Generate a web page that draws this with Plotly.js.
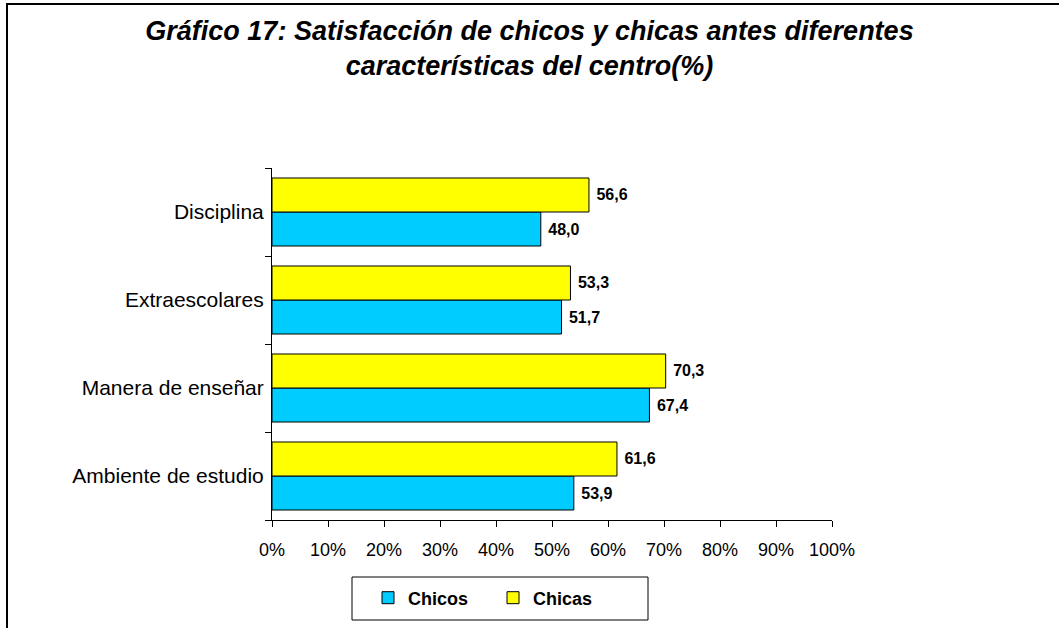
<!DOCTYPE html>
<html>
<head>
<meta charset="utf-8">
<script src="https://cdn.plot.ly/plotly-3.0.1.min.js"></script>
<style>html,body{margin:0;padding:0;background:#fff;}#chart{width:1059px;height:628px;}</style>
</head>
<body>
<div id="chart"></div>
<script>
const categories = ['Ambiente de estudio', 'Manera de enseñar', 'Extraescolares', 'Disciplina'];
const chicos = [53.9, 67.4, 51.7, 48.0];
const chicas = [61.6, 70.3, 53.3, 56.6];
const xTickVals = [0, 10, 20, 30, 40, 50, 60, 70, 80, 90, 100];
const xTickText = ['0%', '10%', '20%', '30%', '40%', '50%', '60%', '70%', '80%', '90%', '100%'];
const seriesNames = ['Chicos', 'Chicas'];

const fmt = v => '\u00a0' + v.toFixed(1).replace('.', ',');
const FONT = 'Liberation Sans, Arial, sans-serif';

const traces = [
  {
    type: 'bar', orientation: 'h', name: seriesNames[0],
    y: categories, x: chicos, text: chicos.map(fmt),
    textposition: 'outside', cliponaxis: false,
    textfont: {family: FONT, size: 16, color: '#000', weight: 'bold'},
    marker: {color: '#00CCFF', line: {color: '#000', width: 1}}
  },
  {
    type: 'bar', orientation: 'h', name: seriesNames[1],
    y: categories, x: chicas, text: chicas.map(fmt),
    textposition: 'outside', cliponaxis: false,
    textfont: {family: FONT, size: 16, color: '#000', weight: 'bold'},
    marker: {color: '#FFFF00', line: {color: '#000', width: 1}}
  }
];

const L = 272, R = 832, T = 168, B = 520, W = 1059, H = 628;
const px2x = p => (p - L) / (R - L);
const px2y = p => (B - p) / (B - T);

const layout = {
  width: W, height: H,
  paper_bgcolor: '#fff', plot_bgcolor: '#fff',
  margin: {l: L, r: W - R, t: T, b: H - B, pad: 0},
  barmode: 'group', bargap: 0.227, bargroupgap: 0,
  font: {family: FONT, color: '#000'},
  title: {
    text: 'Gráfico 17: Satisfacción de chicos y chicas antes diferentes<br>características del centro(%)',
    font: {family: FONT, size: 27, color: '#000', weight: 'bold', style: 'italic'},
    x: 0.5, xanchor: 'center', xref: 'container',
    y: 1 - 40 / H, yanchor: 'middle', yref: 'container'
  },
  xaxis: {
    range: [0, 100], tickvals: xTickVals, ticktext: xTickText,
    showgrid: false, zeroline: false, showline: true, linecolor: '#000', linewidth: 1,
    ticks: 'outside', ticklen: 6, tickcolor: '#000', tickwidth: 1,
    tickfont: {family: FONT, size: 18, color: '#000'}, ticklabelstandoff: 7, fixedrange: true
  },
  yaxis: {
    type: 'category', categoryorder: 'array', categoryarray: categories,
    range: [-0.5, 3.5], tickson: 'boundaries',
    showgrid: false, zeroline: false, showline: true, linecolor: '#000', linewidth: 1,
    ticks: 'outside', ticklen: 6, tickcolor: '#000', tickwidth: 1,
    tickfont: {family: FONT, size: 21, color: '#000'}, ticklabelstandoff: 3, fixedrange: true
  },
  showlegend: true,
  legend: {
    orientation: 'h', x: px2x(368), xanchor: 'left', y: px2y(598), yanchor: 'middle',
    font: {family: FONT, size: 18, color: '#000', weight: 'bold'},
    bgcolor: 'rgba(0,0,0,0)', borderwidth: 0, entrywidth: 80, traceorder: 'normal',
    itemwidth: 30
  },
  shapes: [
    {type: 'rect', xref: 'paper', yref: 'paper',
     x0: px2x(352), x1: px2x(648), y0: px2y(620), y1: px2y(577),
     line: {color: '#000', width: 1}, fillcolor: 'rgba(0,0,0,0)', layer: 'below'},
    {type: 'rect', xref: 'paper', yref: 'paper',
     x0: px2x(7), x1: px2x(1070), y0: px2y(640), y1: px2y(4),
     line: {color: '#000', width: 2}, fillcolor: 'rgba(0,0,0,0)', layer: 'below'}
  ]
};

Plotly.newPlot('chart', traces, layout, {displayModeBar: false, staticPlot: true});
</script>
</body>
</html>
